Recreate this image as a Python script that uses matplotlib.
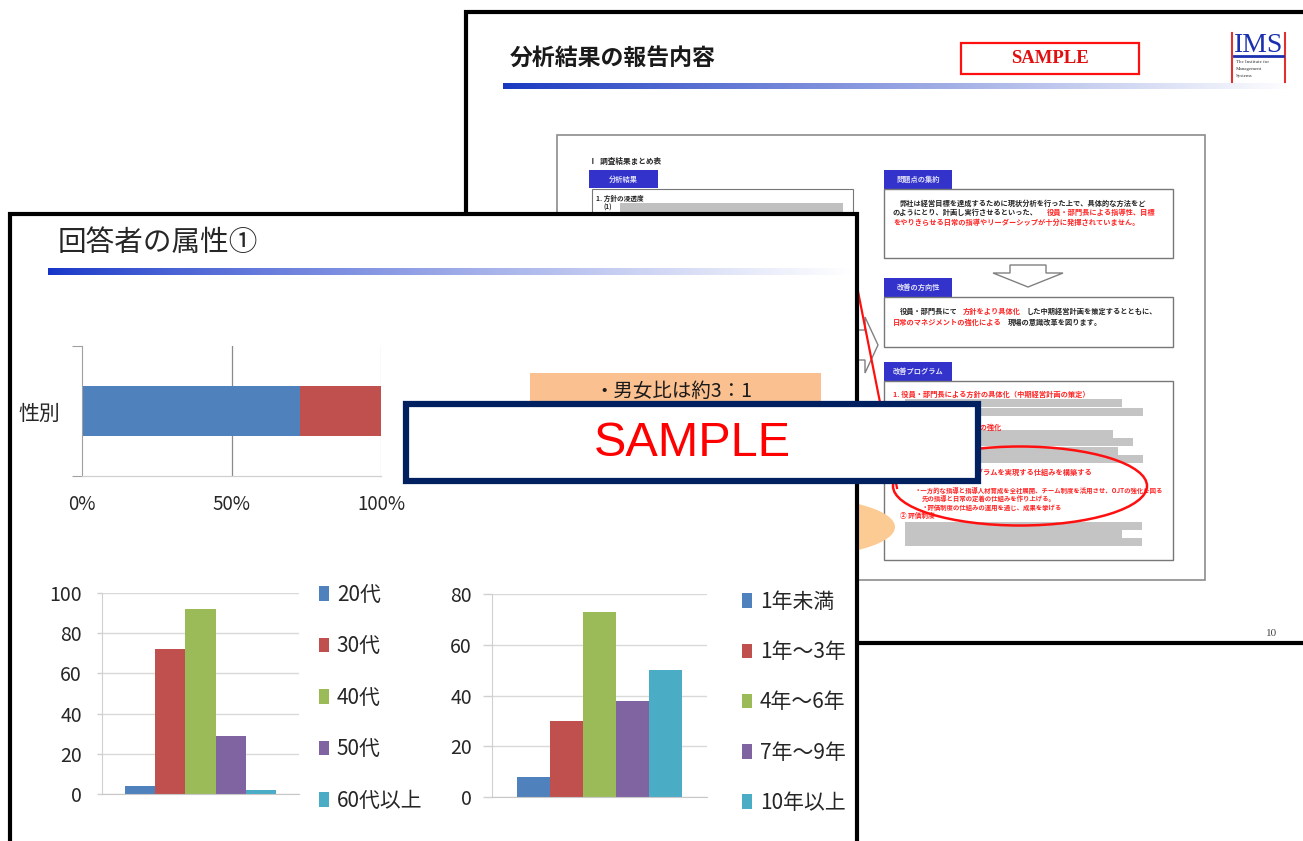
import matplotlib
matplotlib.use('Agg')
import matplotlib.pyplot as plt
import numpy as np
from matplotlib.patches import Rectangle, Polygon, Ellipse
from matplotlib.colors import to_rgb

plt.rcParams['font.family'] = ['Noto Sans CJK JP', 'DejaVu Sans']

# ---------------- data ----------------
gender_labels = ['男性', '女性']
gender_share = [73, 27]
gender_ticks = ['0%', '50%', '100%']
gender_category = '性別'

age_labels = ['20代', '30代', '40代', '50代', '60代以上']
age_values = [4, 72, 92, 29, 2]
age_ticks = [0, 20, 40, 60, 80, 100]

tenure_labels = ['1年未満', '1年～3年', '4年～6年', '7年～9年', '10年以上']
tenure_values = [8, 30, 73, 38, 50]
tenure_ticks = [0, 20, 40, 60, 80]

series_colors = ['#4f81bd', '#c0504d', '#9bbb59', '#8064a2', '#4bacc6']

W, H = 1303, 841
fig = plt.figure(figsize=(W / 100, H / 100), dpi=100)
fig.patch.set_facecolor('white')
bg = fig.add_axes([0, 0, 1, 1])
bg.axis('off')


def fax(x0, y0, x1, y1):
    a = fig.add_axes([x0 / W, 1 - y1 / H, (x1 - x0) / W, (y1 - y0) / H])
    a.set_facecolor('none')
    return a


def gradient(x0, x1, y0, y1, c0, z, power=1.0):
    t = np.linspace(0, 1, 400) ** power
    c = np.array(to_rgb(c0))
    rgb = c[None, :] * (1 - t[:, None]) + t[:, None]
    bg.imshow(rgb[None, :, :], extent=(x0, x1, y1, y0), aspect='auto',
              zorder=z, interpolation='bilinear')


def rect(x0, y0, x1, y1, **kw):
    bg.add_patch(Rectangle((x0, y0), x1 - x0, y1 - y0, **kw))


def tiny(x, y, s, color='black', size=5.2, weight='bold', ha='left', z=3):
    bg.text(x, y, s, color=color, fontsize=size, fontweight=weight, ha=ha,
            va='center', zorder=z, alpha=0.85)


# ---------------- back slide ----------------
rect(466, 12, 1340, 643, fc='white', ec='black', lw=3, zorder=1)
bg.text(510, 58, '分析結果の報告内容', fontsize=16.5, fontweight='bold',
        color='#1a1a1a', va='center', zorder=2)
gradient(503, 1295, 83, 89, '#1838c0', 2, power=0.9)
rect(961, 43, 1139, 74, fc='white', ec='#ff1010', lw=1.6, zorder=2)
bg.text(1050, 58.5, 'SAMPLE', family='Liberation Serif', fontweight='bold',
        fontsize=13.5, color='#e01010', ha='center', va='center', zorder=3)
# IMS logo
bg.plot([1232, 1232], [33, 82], color='#e03030', lw=1.5, zorder=3)
bg.plot([1285, 1285], [33, 82], color='#e03030', lw=1.5, zorder=3)
bg.text(1258.5, 45, 'IMS', family='Liberation Serif', fontsize=20,
        color='#1a30b0', ha='center', va='center', zorder=3)
bg.plot([1234, 1283], [56, 56], color='#1a30b0', lw=2, zorder=3)
for yy, s in zip([62, 69, 76], ['The Institute for', 'Management', 'Systems']):
    bg.text(1236, yy, s, family='Liberation Serif', fontsize=3.6,
            color='#333333', va='center', zorder=3)
bg.text(1272, 633, '10', family='Liberation Serif', fontsize=8,
        color='#444444', ha='center', va='center', zorder=3)

# embedded document
rect(557, 135, 1205, 580, fc='white', ec='#8c8c8c', lw=1.2, zorder=2)
tiny(589, 161, 'Ⅰ  調査結果まとめ表', size=5.5)
rect(589, 170, 658, 188, fc='#3333cc', ec='none', zorder=3)
tiny(623, 179, '分析結果', color='white', ha='center', z=4)
rect(592, 189, 853, 330, fc='white', ec='#777777', lw=0.8, zorder=3)
tiny(596, 198, '1. 方針の浸透度', size=4.8, z=4)
tiny(603, 207, '(1)', size=4.5, z=4)
rect(620, 203, 843, 212, fc='#c0c0c0', ec='none', zorder=4)

tab_y = [170, 278, 362]
tab_txt = ['問題点の集約', '改善の方向性', '改善プログラム']
for ty, tt in zip(tab_y, tab_txt):
    rect(884, ty, 952, ty + 19, fc='#3333cc', ec='none', zorder=3)
    tiny(918, ty + 9.5, tt, color='white', ha='center', z=4)
rect(884, 189, 1173, 258, fc='white', ec='#777777', lw=1, zorder=3)
rect(884, 297, 1173, 347, fc='white', ec='#777777', lw=1, zorder=3)
rect(884, 381, 1173, 560, fc='white', ec='#777777', lw=1, zorder=3)

tiny(900, 203, '弊社は経営目標を達成するために現状分析を行った上で、具体的な方法をど', z=4)
tiny(893, 212, 'のようにとり、計画し実行させるといった、', z=4)
tiny(1047, 212, '役員・部門長による指導性、目標', color='red', z=4)
tiny(893, 222, 'をやりきらせる日常の指導やリーダーシップが十分に発揮されていません。', color='red', z=4)

tiny(900, 311, '役員・部門長にて', z=4)
tiny(963, 311, '方針をより具体化', color='red', z=4)
tiny(1027, 311, 'した中期経営計画を策定するとともに、', z=4)
tiny(893, 322, '日常のマネジメントの強化による', color='red', z=4)
tiny(1008, 322, '現場の意識改革を図ります。', z=4)

tiny(893, 394, '1. 役員・部門長による方針の具体化（中期経営計画の策定）', color='red', z=4)
for (x1, y0) in [(1122, 399), (1143, 408), (1113, 430), (1133, 438),
                 (1118, 447), (1143, 455), (1142, 522), (1122, 530), (1142, 538)]:
    rect(905, y0, x1, y0 + 8, fc='#c4c4c4', ec='none', zorder=4)
tiny(1001, 427, '2. 日常のマネジメントの強化', color='red', ha='right', z=4)
tiny(1092, 472, '3. 人材育成プログラムを実現する仕組みを構築する', color='red', ha='right', z=4)
tiny(915, 490, '・一方的な指導と指導人材育成を全社展開、チーム制度を活用させ、OJTの強化を図る', color='red', size=4.6, z=5)
tiny(922, 498, '先の指導と日常の定着の仕組みを作り上げる。', color='red', size=4.6, z=5)
tiny(922, 507, '・評価制度の仕組みの運用を通じ、成果を挙げる', color='red', size=4.6, z=5)
tiny(900, 515, '② 評価制度', color='red', size=4.8, z=5)
bg.add_patch(Ellipse((1020, 486), 254, 79, fc='none', ec='#ff1010', lw=1.8, zorder=6))
bg.plot([845, 897], [226, 488], color='#ff1010', lw=1.6, zorder=6)

# arrows
bg.add_patch(Polygon([(800, 330), (865, 330), (865, 317), (878, 345), (865, 373),
                      (865, 360), (800, 360)], closed=True, fc='white',
                     ec='#808080', lw=1, zorder=5))
bg.add_patch(Polygon([(1010, 265), (1046, 265), (1046, 273), (1063, 273),
                      (1028, 287), (993, 273), (1010, 273)], closed=True,
                     fc='white', ec='#808080', lw=1, zorder=5))
bg.add_patch(Ellipse((800, 527), 190, 58, fc='#fccb94', ec='none', zorder=5))

# ---------------- front slide ----------------
rect(10, 214, 857, 900, fc='white', ec='black', lw=3, zorder=10)
bg.text(58, 243, '回答者の属性①', fontsize=20.6, color='#262626', va='center', zorder=11)
gradient(48, 852, 268, 275, '#1535c8', 11, power=0.8)
rect(530, 373, 821, 440, fc='#fac090', ec='none', zorder=11)
bg.text(673, 391, '・男女比は約3：1', fontsize=14, color='#1a1a1a',
        ha='center', va='center', zorder=12)

# SAMPLE overlay
rect(406, 404, 978, 481, fc='white', ec='#002060', lw=4.5, zorder=20)
bg.text(692, 443, 'SAMPLE', family='Liberation Sans', fontsize=35,
        color='#ff0000', ha='center', va='center', zorder=21)

bg.set_xlim(0, W)
bg.set_ylim(H, 0)

# ---------------- gender bar chart ----------------
axg = fax(82, 346, 381, 476)
left = 0.0
for v, c, lab in zip(gender_share, series_colors, gender_labels):
    axg.barh(0.5, v / 100, left=left, height=0.39, color=c, label=lab)
    left += v / 100
axg.set_xlim(0, 1)
axg.set_ylim(0, 1)
axg.set_xticks([0, 0.5, 1])
axg.set_xticklabels(gender_ticks, fontsize=13.5, color='#262626')
axg.tick_params(axis='x', length=0, pad=13)
axg.set_yticks([0.5])
axg.set_yticklabels([gender_category], fontsize=15, color='#262626')
axg.tick_params(axis='y', which='major', length=0, pad=16)
axg.set_yticks([0, 1], minor=True)
axg.tick_params(axis='y', which='minor', length=7, color='#a0a0a0', width=0.8)
axg.xaxis.grid(True, lw=0.9)
axg.set_axisbelow(True)
gl = axg.get_xgridlines()
gl[0].set_visible(False)
gl[1].set_color('#8a8a8a')
gl[2].set_color('#d0d0d0')
for s in ['top', 'right']:
    axg.spines[s].set_visible(False)
axg.spines['left'].set_color('#a0a0a0')
axg.spines['left'].set_linewidth(0.8)
axg.spines['bottom'].set_color('#d0d0d0')
axg.spines['bottom'].set_linewidth(0.9)


def column_chart(ax, values, labels, ticks, tick_len, pad, legend_xy, spacing):
    pos = np.arange(len(values)) - (len(values) - 1) / 2
    handles = []
    for p, v, c, lab in zip(pos, values, series_colors, labels):
        handles.append(ax.bar(p, v, width=1.0, color=c, label=lab))
    ax.set_xlim(-3.25, 3.25)
    ax.set_ylim(ticks[0], ticks[-1])
    ax.set_yticks(ticks)
    ax.set_yticklabels([str(t) for t in ticks], fontsize=14, color='#262626')
    ax.tick_params(axis='y', length=tick_len, color='#d0d0d0', width=1, pad=pad)
    ax.set_xticks([])
    ax.yaxis.grid(True, color='#d9d9d9', lw=1)
    ax.set_axisbelow(True)
    for s in ['top', 'right']:
        ax.spines[s].set_visible(False)
    ax.spines['left'].set_color('#d0d0d0')
    ax.spines['bottom'].set_color('#c8c8c8')
    ax.legend(handles, labels, loc='upper left',
              bbox_to_anchor=(legend_xy[0] / W, 1 - legend_xy[1] / H),
              bbox_transform=fig.transFigure, frameon=False, borderpad=0,
              borderaxespad=0, handlelength=0.5, handleheight=0.7,
              handletextpad=0.35, labelspacing=spacing, fontsize=15,
              labelcolor='#262626')


axa = fax(102, 593, 299, 794)
column_chart(axa, age_values, age_labels, age_ticks, 3.6, 10.8, (319, 584), 1.415)

axt = fax(492, 594, 707, 797)
column_chart(axt, tenure_values, tenure_labels, tenure_ticks, 6.5, 8, (742, 591), 1.355)

fig.savefig('out.png', dpi=100, facecolor='white')
